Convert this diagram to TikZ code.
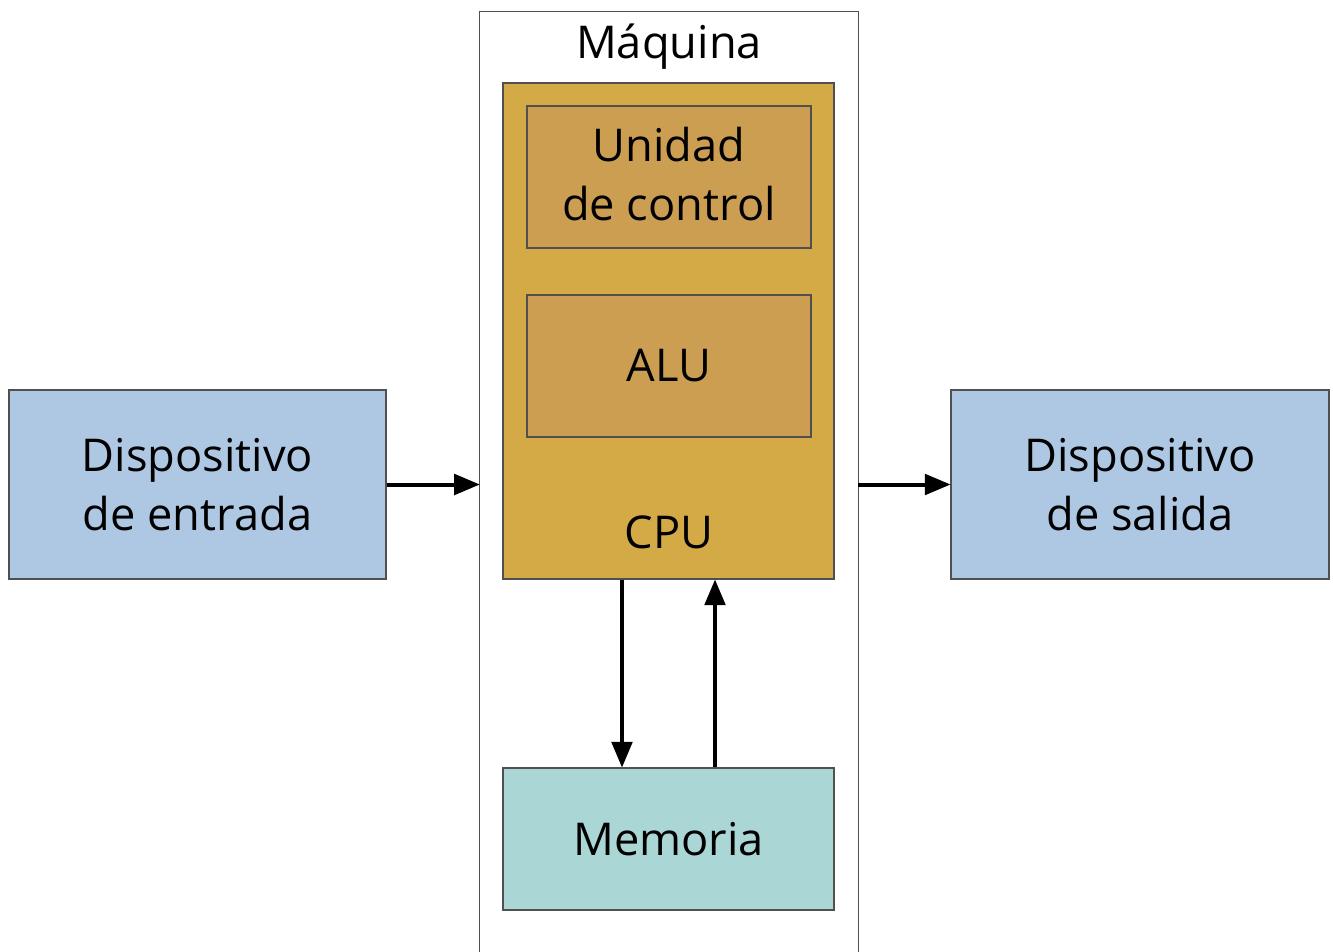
\documentclass[tikz,border=0pt]{standalone}
\usepackage{fontspec}
\setmainfont{Open Sans}
\usepackage{xcolor}
\usetikzlibrary{arrows,positioning}
\definecolor{azul}{RGB}{174,200,228}
\definecolor{oro}{RGB}{212,170,70}
\definecolor{ocre}{RGB}{204,158,82}
\definecolor{agua}{RGB}{170,214,214}
\definecolor{borde}{RGB}{80,80,80}
\tikzset{font=\fontsize{22.6}{29.5}\selectfont}
\tikzstyle{caja}=[rectangle,draw=borde,line width=0.7pt,align=center,inner sep=0pt]
\tikzstyle{flecha}=[->,>=triangle 45,line width=2pt]

\begin{document}
\begin{tikzpicture}
  [x=0.5pt,y=-0.5pt]
\useasboundingbox (0,0) rectangle (1333,952);
\node[minimum width=189pt,minimum height=470pt] (maquina) at (669,482) {};
\draw[borde,line width=0.8pt] (maquina.south west) |- (maquina.north east) -- (maquina.south east);
\node (titulo) at (669,47) {Máquina};
\node[caja,fill=oro,minimum width=165.5pt,minimum height=248pt] (cpu) at (668.5,331) {};
\node (cpulbl) at (669,532) {CPU};
\node[caja,fill=ocre,minimum width=142pt,minimum height=71pt] (uc) at (669,177) {};
\node[align=center] (uclbl) at (669,174) {Unidad\\de control};
\node[caja,fill=ocre,minimum width=142pt,minimum height=71pt] (alu) at (669,366) {ALU};
\node[caja,fill=agua,minimum width=165.5pt,minimum height=71pt] (mem) at (668.5,839) {Memoria};
\node[caja,fill=azul,minimum width=188.5pt,minimum height=94.5pt] (entrada) at (197.5,484.5) {Dispositivo\\de entrada};
\node[caja,fill=azul,minimum width=189pt,minimum height=94.5pt] (salida) at (1140,484.5) {Dispositivo\\de salida};
\coordinate (bajar) at (622,0);
\coordinate (subir) at (715,0);
\path[flecha]
(entrada.east) edge (maquina.west |- entrada.east)
(maquina.east |- salida.west) edge (salida.west)
(cpu.south -| bajar) edge (mem.north -| bajar)
(mem.north -| subir) edge (cpu.south -| subir);
\end{tikzpicture}
\end{document}
